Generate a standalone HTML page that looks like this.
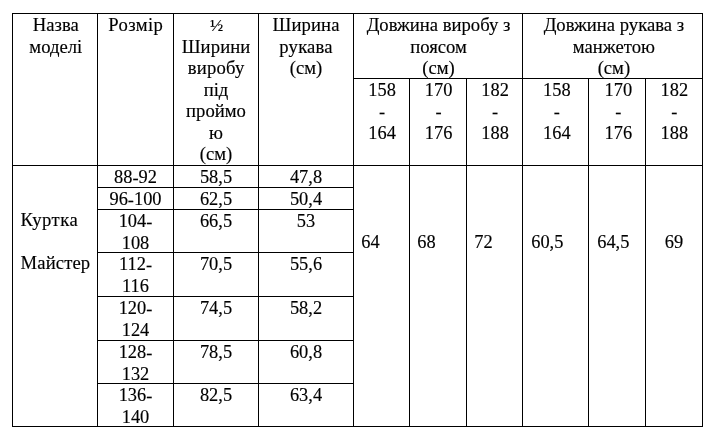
<!DOCTYPE html>
<html><head><meta charset="utf-8"><title>table</title>
<style>
html,body{margin:0;padding:0;background:#fff;}
body{width:720px;height:441px;position:relative;overflow:hidden;font-family:"Liberation Serif",serif;font-size:18.67px;line-height:21.5px;color:#000;}
.l{position:absolute;background:#000;}
#txt{position:absolute;left:0;top:0;width:720px;height:441px;will-change:transform;}
.d{font-size:18.4px;}
.h{position:relative;top:0.45px;}
.t{position:absolute;white-space:nowrap;box-sizing:border-box;-webkit-text-stroke:0.15px #000;}
</style></head><body>
<div class="l" style="left:12px;top:13px;width:691px;height:1px"></div>
<div class="l" style="left:12px;top:426px;width:691px;height:1px"></div>
<div class="l" style="left:353px;top:78px;width:350px;height:1px"></div>
<div class="l" style="left:12px;top:165px;width:691px;height:1px"></div>
<div class="l" style="left:97px;top:187px;width:257px;height:1px"></div>
<div class="l" style="left:97px;top:209px;width:257px;height:1px"></div>
<div class="l" style="left:97px;top:252px;width:257px;height:1px"></div>
<div class="l" style="left:97px;top:296px;width:257px;height:1px"></div>
<div class="l" style="left:97px;top:340px;width:257px;height:1px"></div>
<div class="l" style="left:97px;top:383px;width:257px;height:1px"></div>
<div class="l" style="left:12px;top:13px;width:1px;height:414px"></div>
<div class="l" style="left:97px;top:13px;width:1px;height:414px"></div>
<div class="l" style="left:173px;top:13px;width:1px;height:414px"></div>
<div class="l" style="left:258px;top:13px;width:1px;height:414px"></div>
<div class="l" style="left:353px;top:13px;width:1px;height:414px"></div>
<div class="l" style="left:522px;top:13px;width:1px;height:414px"></div>
<div class="l" style="left:702px;top:13px;width:1px;height:414px"></div>
<div class="l" style="left:409px;top:78px;width:1px;height:349px"></div>
<div class="l" style="left:466px;top:78px;width:1px;height:349px"></div>
<div class="l" style="left:588px;top:78px;width:1px;height:349px"></div>
<div class="l" style="left:645px;top:78px;width:1px;height:349px"></div>
<div id="txt">
<div class="t" style="left:13.80px;top:14.10px;width:84.00px;text-align:center;">Назва<br>моделі</div>
<div class="t" style="left:98.00px;top:14.10px;width:75.00px;text-align:center;"><span style="letter-spacing:0.4px;margin-right:-0.4px">Розмір</span></div>
<div class="t" style="left:174.00px;top:14.10px;width:84.00px;text-align:center;"><span style="font-size:17.7px;line-height:0;position:relative;left:0.6px">½</span><br><span style="letter-spacing:0.1px;margin-right:-0.1px">Ширини</span><br><span style="letter-spacing:0.2px;margin-right:-0.2px">виробу</span><br>під<br>проймо<br>ю<br>(см)</div>
<div class="t" style="left:259.00px;top:14.10px;width:94.00px;text-align:center;"><span style="letter-spacing:0.12px;margin-right:-0.12px">Ширина</span><br><span style="letter-spacing:0.2px;margin-right:-0.2px">рукава</span><br>(см)</div>
<div class="t" style="left:354.50px;top:14.10px;width:168.00px;text-align:center;">Довжина виробу з<br>поясом<br>(см)</div>
<div class="t" style="left:524.40px;top:14.10px;width:179.00px;text-align:center;">Довжина рукава з<br>манжетою<br>(см)</div>
<div class="t d" style="left:354.60px;top:80.10px;width:55.00px;text-align:center;">158<br><span class="h">-</span><br>164</div>
<div class="t d" style="left:410.60px;top:80.10px;width:56.00px;text-align:center;">170<br><span class="h">-</span><br>176</div>
<div class="t d" style="left:467.60px;top:80.10px;width:55.00px;text-align:center;">182<br><span class="h">-</span><br>188</div>
<div class="t d" style="left:524.30px;top:80.10px;width:65.00px;text-align:center;">158<br><span class="h">-</span><br>164</div>
<div class="t d" style="left:590.30px;top:80.10px;width:56.00px;text-align:center;">170<br><span class="h">-</span><br>176</div>
<div class="t d" style="left:646.40px;top:80.10px;width:56.00px;text-align:center;">182<br><span class="h">-</span><br>188</div>
<div class="t d" style="left:98.00px;top:167.10px;width:75.00px;text-align:center;">88<span class="h">-</span>92</div>
<div class="t d" style="left:174.00px;top:167.10px;width:84.00px;text-align:center;">58,5</div>
<div class="t d" style="left:259.00px;top:167.10px;width:94.00px;text-align:center;">47,8</div>
<div class="t d" style="left:98.00px;top:189.10px;width:75.00px;text-align:center;">96<span class="h">-</span>100</div>
<div class="t d" style="left:174.00px;top:189.10px;width:84.00px;text-align:center;">62,5</div>
<div class="t d" style="left:259.00px;top:189.10px;width:94.00px;text-align:center;">50,4</div>
<div class="t d" style="left:98.00px;top:211.10px;width:75.00px;text-align:center;">104<span class="h">-</span><br>108</div>
<div class="t d" style="left:174.00px;top:211.10px;width:84.00px;text-align:center;">66,5</div>
<div class="t d" style="left:259.00px;top:211.10px;width:94.00px;text-align:center;">53</div>
<div class="t d" style="left:98.00px;top:254.10px;width:75.00px;text-align:center;">112<span class="h">-</span><br>116</div>
<div class="t d" style="left:174.00px;top:254.10px;width:84.00px;text-align:center;">70,5</div>
<div class="t d" style="left:259.00px;top:254.10px;width:94.00px;text-align:center;">55,6</div>
<div class="t d" style="left:98.00px;top:298.10px;width:75.00px;text-align:center;">120<span class="h">-</span><br>124</div>
<div class="t d" style="left:174.00px;top:298.10px;width:84.00px;text-align:center;">74,5</div>
<div class="t d" style="left:259.00px;top:298.10px;width:94.00px;text-align:center;">58,2</div>
<div class="t d" style="left:98.00px;top:342.10px;width:75.00px;text-align:center;">128<span class="h">-</span><br>132</div>
<div class="t d" style="left:174.00px;top:342.10px;width:84.00px;text-align:center;">78,5</div>
<div class="t d" style="left:259.00px;top:342.10px;width:94.00px;text-align:center;">60,8</div>
<div class="t d" style="left:98.00px;top:385.10px;width:75.00px;text-align:center;">136<span class="h">-</span><br>140</div>
<div class="t d" style="left:174.00px;top:385.10px;width:84.00px;text-align:center;">82,5</div>
<div class="t d" style="left:259.00px;top:385.10px;width:94.00px;text-align:center;">63,4</div>
<div class="t" style="left:13.00px;top:209.10px;width:84.00px;text-align:left;padding-left:7.6px;"><span style="letter-spacing:0.5px">Куртка</span><br><br><span style="letter-spacing:0.1px">Майстер</span></div>
<div class="t d" style="left:354.00px;top:232.10px;width:55.00px;text-align:left;padding-left:7.3px;">64</div>
<div class="t d" style="left:410.00px;top:232.10px;width:56.00px;text-align:left;padding-left:7.3px;">68</div>
<div class="t d" style="left:467.00px;top:232.10px;width:55.00px;text-align:left;padding-left:7.3px;">72</div>
<div class="t d" style="left:523.00px;top:232.10px;width:65.00px;text-align:left;padding-left:8.2px;">60,5</div>
<div class="t d" style="left:589.00px;top:232.10px;width:56.00px;text-align:left;padding-left:8.2px;">64,5</div>
<div class="t d" style="left:646.00px;top:232.10px;width:56.00px;text-align:center;">69</div>
</div>
</body></html>
